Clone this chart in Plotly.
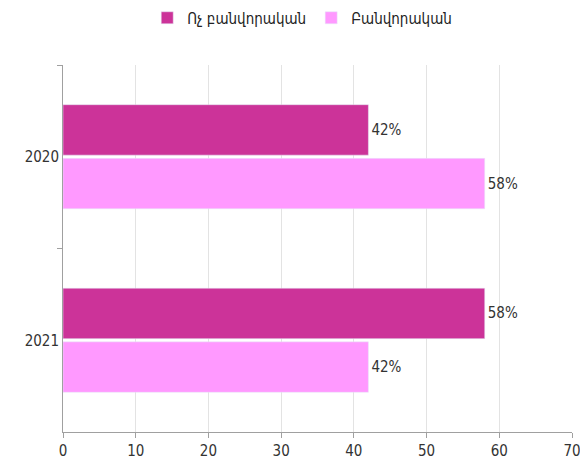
import plotly.graph_objects as go

years = ["2020", "2021"]
non_worker = [42, 58]
worker = [58, 42]
series_names = ["Ոչ բանվորական", "Բանվորական"]
x_ticks = [0, 10, 20, 30, 40, 50, 60, 70]

font_family = "DejaVu Sans Condensed, Liberation Sans Narrow, Arial Narrow, sans-serif"

fig = go.Figure()
fig.add_trace(go.Bar(
    y=years, x=non_worker, orientation="h", name=series_names[0],
    marker=dict(color="#CC3399"),
    text=[f"{v}%" for v in non_worker], textposition="outside",
    textfont=dict(size=15, color="#333333", family=font_family),
    cliponaxis=False,
))
fig.add_trace(go.Bar(
    y=years, x=worker, orientation="h", name=series_names[1],
    marker=dict(color="#FF99FF"),
    text=[f"{v}%" for v in worker], textposition="outside",
    textfont=dict(size=15, color="#333333", family=font_family),
    cliponaxis=False,
))

fig.update_layout(
    width=580, height=467,
    margin=dict(l=55, r=16, t=57, b=43, autoexpand=False),
    barmode="group", bargap=0.415, bargroupgap=0.06,
    plot_bgcolor="white", paper_bgcolor="white",
    font=dict(family=font_family, size=15, color="#333333"),
    showlegend=True,
    legend=dict(orientation="h", x=0.47, xanchor="center", y=1.128, yanchor="middle",
                font=dict(size=15, color="#222222"),
                itemwidth=30, tracegroupgap=0),
    xaxis=dict(range=[0, 70], tickvals=x_ticks, showgrid=True, gridcolor="#E3E3E3",
               gridwidth=1, zeroline=False, showline=True, linecolor="#A0A0A0",
               ticks="outside", ticklen=5, tickcolor="#A0A0A0", automargin=False,
               tickfont=dict(size=15, color="#333333")),
    yaxis=dict(autorange="reversed", showline=True, linecolor="#A0A0A0",
               ticks="outside", ticklen=5, tickcolor="#A0A0A0", tickson="boundaries",
               showgrid=False, automargin=False, tickfont=dict(size=15, color="#333333")),
)

fig.write_html("out.html")
